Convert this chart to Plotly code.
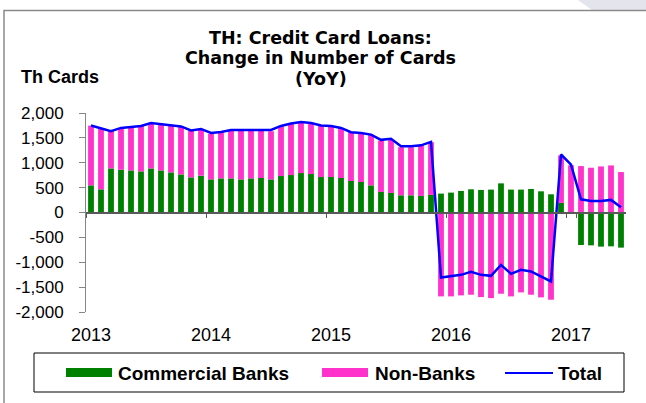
import plotly.graph_objects as go
import pandas as pd

# ---------------- data ----------------
months = list(pd.date_range("2013-01-01", periods=54, freq="MS").strftime("%b-%y"))

commercial_banks = [546, 466, 886, 860, 846, 826, 886, 846, 806, 766,
                    706, 740, 666, 686, 686, 666, 686, 693, 666, 733,
                    753, 793, 773, 713, 713, 693, 633, 613, 546, 413,
                    393, 346, 346, 333, 353,
                    380, 400, 433, 466, 453, 460, 586, 460, 460, 473, 426, 366,
                    193, 0, -653, -660, -686, -680, -706]

non_banks = [1200, 1214, 747, 840, 867, 914, 914, 934, 940, 960,
             940, 940, 914, 927, 974, 994, 974, 947, 967, 993,
             1027, 1020, 1027, 1033, 1013, 1007, 980, 987, 1020, 1033,
             1067, 967, 967, 1013, 1060,
             -1686, -1686, -1666, -1653, -1700, -1720, -1633, -1686, -1606, -1653, -1706, -1753,
             953, 950, 933, 900, 926, 946, 813]

total = [1750, 1700, 1635, 1700, 1720, 1740, 1800, 1775, 1750, 1730,
         1650, 1680, 1600, 1620, 1660, 1660, 1660, 1650, 1660, 1740,
         1790, 1820, 1800, 1750, 1740, 1700, 1613, 1600, 1566, 1460,
         1480, 1330, 1330, 1350, 1420,
         -1306, -1286, -1253, -1193, -1253, -1273, -1053, -1233, -1153, -1186, -1286, -1386,
         1166, 960, 266, 233, 233, 253, 106]

year_tick_months = ["Jan-13", "Jan-14", "Jan-15", "Jan-16", "Jan-17"]
year_tick_labels = ["2013", "2014", "2015", "2016", "2017"]
y_tick_values = [-2000, -1500, -1000, -500, 0, 500, 1000, 1500, 2000]
y_tick_labels = ["-2,000", "-1,500", "-1,000", "-500", "0", "500", "1,000", "1,500", "2,000"]

series_names = ["Commercial Banks", "Non-Banks", "Total"]
GREEN = "#008000"
PINK = "#FF33CC"
BLUE = "#0000FF"
FONT = "Liberation Sans, Arial, sans-serif"
TITLE_FONT = "DejaVu Sans, Liberation Sans, Arial, sans-serif"

# ---------------- layout geometry (pixels) ----------------
W, H = 646, 403
L, R, T, B = 86, 20, 113, 91
PW, PH = W - L - R, H - T - B


def fx(x):
    return (x - L) / PW


def fy(y):
    return (H - B - y) / PH


fig = go.Figure()
fig.add_trace(go.Bar(x=months, y=commercial_banks, name=series_names[0],
                     marker=dict(color=GREEN, line=dict(width=0)), showlegend=False))
fig.add_trace(go.Bar(x=months, y=non_banks, name=series_names[1],
                     marker=dict(color=PINK, line=dict(width=0)), showlegend=False))
fig.add_trace(go.Scatter(x=months, y=total, name=series_names[2], mode="lines",
                         line=dict(color=BLUE, width=2.5), xaxis="x2", yaxis="y",
                         showlegend=False))

axis_common = dict(type="category", categoryorder="array", categoryarray=months,
                   range=[-0.5, len(months) - 0.5], showgrid=False, zeroline=False)

fig.update_layout(
    width=W, height=H,
    margin=dict(l=L, r=R, t=T, b=B, pad=0),
    paper_bgcolor="white", plot_bgcolor="white",
    barmode="relative", bargap=0.42,
    font=dict(family=FONT, color="black"),
    xaxis=dict(**axis_common, tickvals=year_tick_months, ticktext=year_tick_labels,
               ticks="", showline=False, tickfont=dict(size=18), ticklabelstandoff=10),
    xaxis2=dict(**axis_common, overlaying="x", anchor="free", position=0.5,
                side="bottom", showline=True, linecolor="#595959", linewidth=1.5,
                ticks="outside", ticklen=5, tickwidth=1, tickcolor="#595959",
                tickson="boundaries", tickvals=year_tick_months, showticklabels=False),
    yaxis=dict(range=[-2000, 2000], tickvals=y_tick_values, ticktext=y_tick_labels,
               showline=True, linecolor="#868686", linewidth=1, ticks="outside",
               ticklen=6, tickcolor="#868686", showgrid=False, zeroline=False,
               tickfont=dict(size=17), ticklabelstandoff=12),
)

# ---------------- titles ----------------
title_lines = ["TH: Credit Card Loans:", "Change in Number of Cards", "(YoY)"]
title_y = [37.5, 58, 79]
for txt, yy in zip(title_lines, title_y):
    fig.add_annotation(text="<b>%s</b>" % txt, xref="paper", yref="paper",
                       x=fx(320.5), y=fy(yy), xanchor="center", yanchor="middle",
                       showarrow=False, font=dict(size=17.5, family=TITLE_FONT))
fig.add_annotation(text="<b>Th Cards</b>", xref="paper", yref="paper",
                   x=fx(19), y=fy(77), xanchor="left", yanchor="middle",
                   showarrow=False, font=dict(size=18, family=FONT))

# ---------------- custom legend ----------------
shapes = []
shapes.append(dict(type="rect", xref="paper", yref="paper", x0=fx(34), x1=fx(624),
                   y0=fy(353), y1=fy(392), line=dict(color="black", width=1),
                   fillcolor="rgba(0,0,0,0)"))
shapes.append(dict(type="rect", xref="paper", yref="paper", x0=fx(66), x1=fx(112),
                   y0=fy(368), y1=fy(377), line=dict(width=0), fillcolor=GREEN))
shapes.append(dict(type="rect", xref="paper", yref="paper", x0=fx(322), x1=fx(368),
                   y0=fy(368), y1=fy(377), line=dict(width=0), fillcolor=PINK))
shapes.append(dict(type="line", xref="paper", yref="paper", x0=fx(505), x1=fx(553),
                   y0=fy(373), y1=fy(373), line=dict(color=BLUE, width=2)))
for txt, xx in zip(series_names, [116, 373, 556]):
    fig.add_annotation(text="<b>%s</b>" % txt, xref="paper", yref="paper",
                       x=fx(xx), y=fy(373.5), xanchor="left", yanchor="middle",
                       showarrow=False, font=dict(size=19, family=FONT))

# ---------------- outer frame ----------------
shapes.append(dict(type="path", xref="paper", yref="paper",
                   path="M %f %f L %f %f L %f %f L %f %f Z" % (
                       fx(578), fy(0), fx(646), fy(0), fx(646), fy(10), fx(592), fy(10)),
                   line=dict(width=0), fillcolor="#E4E4EC"))
shapes.append(dict(type="path", xref="paper", yref="paper",
                   path="M %f %f L %f %f L %f %f" % (
                       fx(4), fy(410), fx(4), fy(10.5), fx(650), fy(10.5)),
                   line=dict(color="#8A8A8A", width=1.5)))
fig.update_layout(shapes=shapes)

fig.write_html("out.html", config={"displayModeBar": False},
               post_script="document.body.style.margin='0';document.body.style.overflow='hidden';")
